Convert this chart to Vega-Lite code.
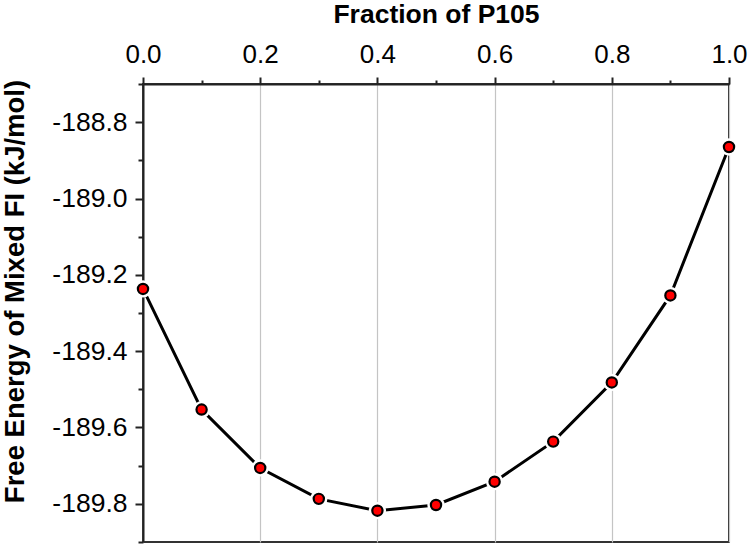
{
  "$schema": "https://vega.github.io/schema/vega-lite/v6.json",
  "width": 586,
  "height": 458,
  "autosize": {"type": "none"},
  "padding": {"left": 143, "top": 84, "right": 21, "bottom": 3},
  "background": "white",
  "config": {
    "view": {"stroke": "#333333", "strokeWidth": 2},
    "font": "Liberation Sans"
  },
  "data": {
    "values": [
      {"fraction": 0.0, "energy": -189.237},
      {"fraction": 0.1, "energy": -189.553},
      {"fraction": 0.2, "energy": -189.706},
      {"fraction": 0.3, "energy": -189.787},
      {"fraction": 0.4, "energy": -189.818},
      {"fraction": 0.5, "energy": -189.803},
      {"fraction": 0.6, "energy": -189.742},
      {"fraction": 0.7, "energy": -189.637},
      {"fraction": 0.8, "energy": -189.482},
      {"fraction": 0.9, "energy": -189.254},
      {"fraction": 1.0, "energy": -188.865}
    ]
  },
  "encoding": {
    "x": {
      "field": "fraction",
      "type": "quantitative",
      "scale": {"domain": [0, 1], "nice": false, "zero": false},
      "axis": {
        "orient": "top",
        "title": "Fraction of P105",
        "titleFont": "Liberation Sans",
        "titleFontSize": 26.5,
        "titleFontWeight": "bold",
        "titleColor": "black",
        "titleBaseline": "alphabetic",
        "titleY": -62,
        "values": [0, 0.1, 0.2, 0.3, 0.4, 0.5, 0.6, 0.7, 0.8, 0.9, 1.0],
        "labelExpr": "abs(round(datum.value*10))%2===0 ? format(datum.value, '.1f') : ''",
        "labelFont": "Liberation Sans",
        "labelFontSize": 26,
        "labelColor": "black",
        "labelBaseline": "alphabetic",
        "labelPadding": 15,
        "labelFlush": false,
        "labelOverlap": false,
        "domainColor": "#222222",
        "domainWidth": 2,
        "tickColor": "#222222",
        "tickWidth": 2,
        "tickSize": {"condition": {"test": "abs(round(datum.value*10))%2===1", "value": 4}, "value": 7},
        "grid": true,
        "gridColor": "#c4c4c4",
        "gridWidth": 1.2,
        "gridOpacity": {"condition": {"test": "abs(round(datum.value*10))%2===1", "value": 0}, "value": 1}
      }
    },
    "y": {
      "field": "energy",
      "type": "quantitative",
      "scale": {"domain": [-189.9, -188.7], "nice": false, "zero": false},
      "axis": {
        "orient": "left",
        "title": "Free Energy of Mixed FI (kJ/mol)",
        "titleFont": "Liberation Sans",
        "titleFontSize": 27.5,
        "titleFontWeight": "bold",
        "titleColor": "black",
        "titleAngle": -90,
        "titleBaseline": "bottom",
        "titleX": -114,
        "titleY": 207,
        "values": [-189.9, -189.8, -189.7, -189.6, -189.5, -189.4, -189.3, -189.2, -189.1, -189.0, -188.9, -188.8, -188.7],
        "labelExpr": "abs(round(datum.value*10))%2===0 ? '-' + format(abs(datum.value), '.1f') : ''",
        "labelFont": "Liberation Sans",
        "labelFontSize": 26.5,
        "labelColor": "black",
        "labelPadding": 8,
        "labelFlush": false,
        "labelOverlap": false,
        "domainColor": "#222222",
        "domainWidth": 2,
        "tickColor": "#222222",
        "tickWidth": 2,
        "tickSize": {"condition": {"test": "abs(round(datum.value*10))%2===1", "value": 5}, "value": 8},
        "grid": false
      }
    }
  },
  "layer": [
    {
      "mark": {"type": "line", "color": "black", "strokeWidth": 3},
      "encoding": {}
    },
    {
      "mark": {"type": "point", "shape": "circle", "filled": true, "fill": "white", "stroke": null, "strokeWidth": 0, "size": 300, "opacity": 1},
      "encoding": {}
    },
    {
      "mark": {"type": "point", "shape": "circle", "filled": true, "fill": "#ff0000", "stroke": "black", "strokeWidth": 2.2, "size": 105, "opacity": 1},
      "encoding": {}
    }
  ]
}
